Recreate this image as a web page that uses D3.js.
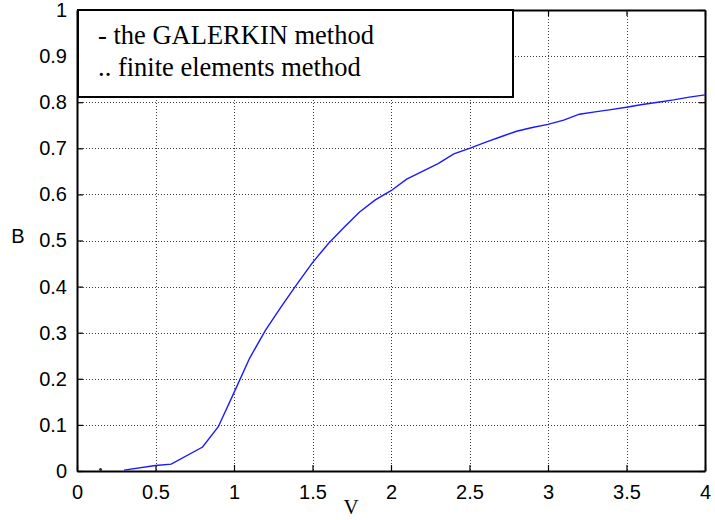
<!DOCTYPE html>
<html>
<head>
<meta charset="utf-8">
<script src="https://cdn.jsdelivr.net/npm/d3@7"></script>
<style>
  body { margin: 0; background: #fff; }
  svg { display: block; }
</style>
</head>
<body>
<div id="chart"></div>
<script>
(function galerkin_plot() {

  // V values and B values of the GALERKIN curve
  const vValues = [0.3, 0.5, 0.6, 0.8, 0.9, 1.0, 1.1, 1.2, 1.3, 1.4, 1.5, 1.6, 1.7, 1.8, 1.9,
    2.0, 2.1, 2.2, 2.3, 2.4, 2.5, 2.6, 2.7, 2.8, 2.9, 3.0, 3.1, 3.2, 3.3, 3.4, 3.5,
    3.6, 3.7, 3.8, 3.9, 4.0];
  const bValues = [0.002, 0.012, 0.015, 0.052, 0.096, 0.17, 0.245, 0.305, 0.356, 0.405, 0.452,
    0.493, 0.528, 0.562, 0.588, 0.608, 0.633, 0.65, 0.667, 0.688, 0.70, 0.713, 0.725, 0.737,
    0.745, 0.752, 0.761, 0.774, 0.779, 0.784, 0.789, 0.795, 0.800, 0.805, 0.811, 0.816];

  // finite elements points (only one visible)
  const feV = [0.15];
  const feB = [0.003];

  const xTicks = [0, 0.5, 1, 1.5, 2, 2.5, 3, 3.5, 4];
  const yTicks = [0, 0.1, 0.2, 0.3, 0.4, 0.5, 0.6, 0.7, 0.8, 0.9, 1];
  const legendLines = ["- the GALERKIN method", ".. finite elements method"];

  const width = 715, height = 520;
  const left = 77, right = 705, top = 10, bottom = 471;

  const x = d3.scaleLinear().domain([0, 4]).range([left, right]);
  const y = d3.scaleLinear().domain([0, 1]).range([bottom, top]);

  const svg = d3.select("#chart")
    .append("svg")
    .attr("width", width)
    .attr("height", height);

  // grid
  const grid = svg.append("g")
    .attr("stroke", "#111")
    .attr("stroke-width", 1)
    .attr("stroke-dasharray", "1,2")
    .attr("opacity", 0.8);

  grid.selectAll("line.v")
    .data(xTicks.slice(1, -1))
    .join("line")
    .attr("x1", d => Math.round(x(d)) + 0.5)
    .attr("x2", d => Math.round(x(d)) + 0.5)
    .attr("y1", top)
    .attr("y2", bottom);

  grid.selectAll("line.h")
    .data(yTicks.slice(1, -1))
    .join("line")
    .attr("x1", left)
    .attr("x2", right)
    .attr("y1", d => Math.round(y(d)) + 0.5)
    .attr("y2", d => Math.round(y(d)) + 0.5);

  // axes (MATLAB style, inward ticks on all sides)
  const tickFont = "'Liberation Sans', Arial, sans-serif";

  const xAxis = svg.append("g")
    .attr("transform", `translate(0,${bottom})`)
    .call(d3.axisBottom(x).tickValues(xTicks).tickSizeInner(-6).tickSizeOuter(0)
      .tickPadding(14).tickFormat(d3.format("")));
  const yAxis = svg.append("g")
    .attr("transform", `translate(${left},0)`)
    .call(d3.axisLeft(y).tickValues(yTicks).tickSizeInner(-6).tickSizeOuter(0)
      .tickPadding(10).tickFormat(d3.format("")));
  const xTop = svg.append("g")
    .attr("transform", `translate(0,${top})`)
    .call(d3.axisTop(x).tickValues(xTicks).tickSizeInner(-6).tickSizeOuter(0).tickFormat(""));
  const yRight = svg.append("g")
    .attr("transform", `translate(${right},0)`)
    .call(d3.axisRight(y).tickValues(yTicks).tickSizeInner(-6).tickSizeOuter(0).tickFormat(""));

  [xAxis, yAxis, xTop, yRight].forEach(g => {
    g.select(".domain").attr("stroke", "#000").attr("stroke-width", 2);
    g.selectAll(".tick line").attr("stroke", "#000").attr("stroke-width", 1.2);
    g.selectAll(".tick text")
      .attr("fill", "#000")
      .style("font-family", tickFont)
      .style("font-size", "20px");
  });

  // curve
  const line = d3.line()
    .x(d => x(d[0]))
    .y(d => y(d[1]));

  svg.append("path")
    .datum(vValues.map((v, i) => [v, bValues[i]]))
    .attr("fill", "none")
    .attr("stroke", "#1a1aff")
    .attr("stroke-width", 1.4)
    .attr("d", line);

  svg.selectAll("circle.fe")
    .data(feV.map((v, i) => [v, feB[i]]))
    .join("circle")
    .attr("cx", d => x(d[0]))
    .attr("cy", d => y(d[1]))
    .attr("r", 1.6)
    .attr("fill", "#333");

  // legend box
  const legend = svg.append("g");
  legend.append("rect")
    .attr("x", 78)
    .attr("y", 10)
    .attr("width", 435)
    .attr("height", 87)
    .attr("fill", "#fff")
    .attr("stroke", "#000")
    .attr("stroke-width", 2);

  legend.selectAll("text")
    .data(legendLines)
    .join("text")
    .attr("x", 98)
    .attr("y", (d, i) => 44 + i * 32)
    .style("font-family", "'Liberation Serif', 'Times New Roman', serif")
    .style("font-size", "26.5px")
    .attr("fill", "#000")
    .text(d => d);

  // axis labels
  svg.append("text")
    .attr("x", 351)
    .attr("y", 514)
    .attr("text-anchor", "middle")
    .style("font-family", "'Liberation Serif', 'Times New Roman', serif")
    .style("font-size", "21px")
    .text("V");

  svg.append("text")
    .attr("x", 18)
    .attr("y", 243)
    .attr("text-anchor", "middle")
    .style("font-family", tickFont)
    .style("font-size", "20px")
    .text("B");

})();
</script>
</body>
</html>
